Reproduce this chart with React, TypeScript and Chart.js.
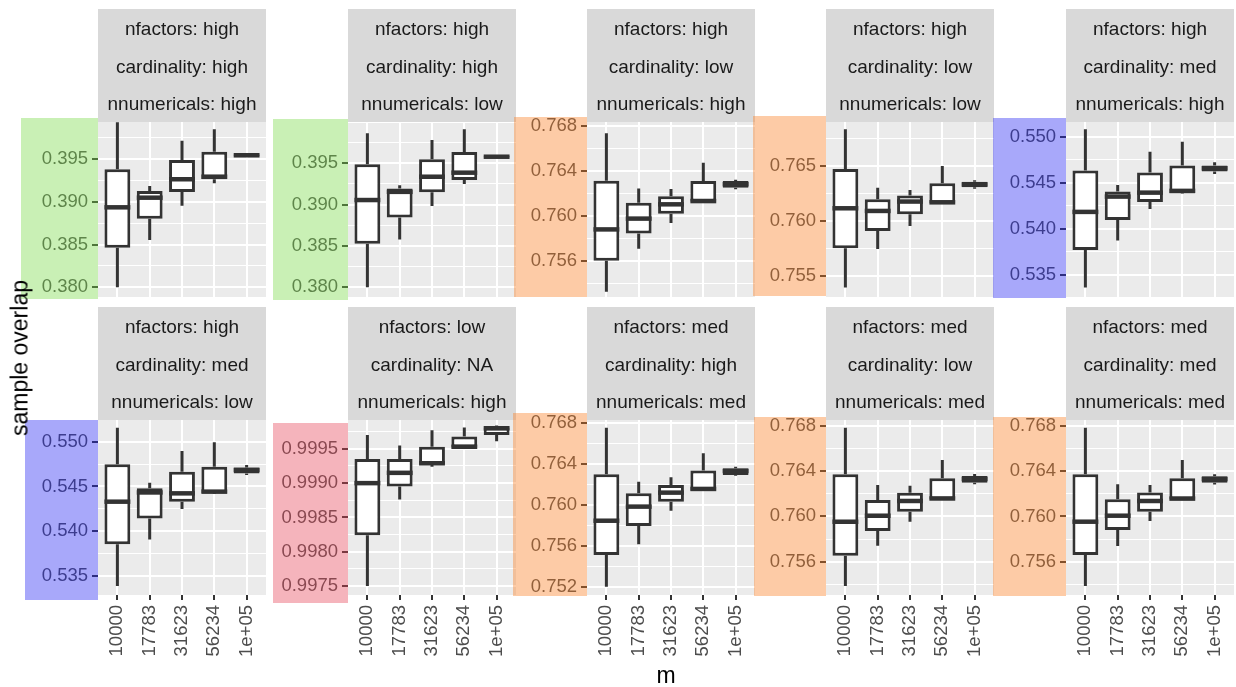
import React, { useEffect, useRef } from "react";
import { Chart, registerables } from "chart.js";

Chart.register(...registerables);

// ---------- data ----------
const categories = ["10000", "17783", "31623", "56234", "1e+05"];

// five-number summaries per m: [min, q1, median, q3, max]
const statsHHH = [
  [0.38, 0.38464, 0.38937, 0.39383, 0.39935],
  [0.38554, 0.38804, 0.3905, 0.39128, 0.39187],
  [0.38956, 0.39117, 0.39266, 0.39492, 0.39718],
  [0.39219, 0.39266, 0.39296, 0.39589, 0.39852],
  [0.39532, 0.39538, 0.39547, 0.39556, 0.39562],
];
const statsHHL = [
  [0.38, 0.38528, 0.39056, 0.39488, 0.39863],
  [0.38579, 0.38845, 0.39155, 0.39196, 0.39236],
  [0.38984, 0.39149, 0.39338, 0.39548, 0.39782],
  [0.3925, 0.39298, 0.39387, 0.39637, 0.39911],
  [0.39568, 0.39572, 0.3958, 0.39588, 0.39594],
];
const statsHLH = [
  [0.75327, 0.75603, 0.75881, 0.76314, 0.76735],
  [0.7571, 0.75844, 0.75977, 0.76119, 0.76244],
  [0.75938, 0.76021, 0.76104, 0.76176, 0.7624],
  [0.7612, 0.76127, 0.76133, 0.76311, 0.76474],
  [0.76238, 0.76252, 0.76283, 0.76311, 0.76323],
];
const statsHLL = [
  [0.75397, 0.75752, 0.76114, 0.7647, 0.7683],
  [0.75745, 0.75908, 0.7609, 0.76196, 0.76301],
  [0.75954, 0.7606, 0.76175, 0.76229, 0.7628],
  [0.76155, 0.7616, 0.76168, 0.7634, 0.76497],
  [0.76291, 0.76305, 0.7633, 0.76355, 0.76369],
];
const statsHMH = [
  [0.53363, 0.53772, 0.54184, 0.54632, 0.5508],
  [0.53873, 0.54097, 0.5435, 0.54404, 0.54476],
  [0.54216, 0.54292, 0.54393, 0.5461, 0.54837],
  [0.5438, 0.54386, 0.54412, 0.54686, 0.54946],
  [0.54595, 0.54621, 0.54657, 0.54686, 0.54722],
];
const statsHML = [
  [0.53388, 0.53855, 0.5433, 0.54748, 0.55156],
  [0.53908, 0.54143, 0.54433, 0.54479, 0.54542],
  [0.54248, 0.5433, 0.54423, 0.54665, 0.54896],
  [0.54415, 0.54423, 0.54442, 0.54721, 0.54993],
  [0.54628, 0.54645, 0.54684, 0.54712, 0.5474],
];
const statsLNH = [
  [0.9975, 0.99824, 0.999, 0.99935, 0.9997],
  [0.99876, 0.99895, 0.99915, 0.99935, 0.99955],
  [0.99924, 0.99927, 0.99929, 0.99953, 0.99977],
  [0.99951, 0.99952, 0.99953, 0.99968, 0.99981],
  [0.99961, 0.9997, 0.9998, 0.99981, 0.99984],
];
const statsMHM = [
  [0.75206, 0.75514, 0.75847, 0.76298, 0.76751],
  [0.75618, 0.75796, 0.75984, 0.76114, 0.76227],
  [0.75945, 0.76032, 0.7612, 0.76194, 0.76269],
  [0.76135, 0.76139, 0.76156, 0.76334, 0.76502],
  [0.76285, 0.76292, 0.7633, 0.76356, 0.76372],
];
const statsMLM = [
  [0.75386, 0.75653, 0.75953, 0.76371, 0.76782],
  [0.75742, 0.75871, 0.76006, 0.76145, 0.76277],
  [0.75953, 0.76041, 0.76136, 0.76209, 0.76271],
  [0.76147, 0.7615, 0.76158, 0.76336, 0.76497],
  [0.76283, 0.76297, 0.7633, 0.76356, 0.76374],
];
const statsMMM = [
  [0.75386, 0.7566, 0.75954, 0.76373, 0.76785],
  [0.75739, 0.75881, 0.76007, 0.76152, 0.76285],
  [0.7596, 0.76043, 0.76137, 0.76211, 0.76278],
  [0.76147, 0.7615, 0.76158, 0.76338, 0.76499],
  [0.76283, 0.76298, 0.76331, 0.76356, 0.76374],
];

// strip labels
const stripHHH = ["nfactors: high", "cardinality: high", "nnumericals: high"];
const stripHHL = ["nfactors: high", "cardinality: high", "nnumericals: low"];
const stripHLH = ["nfactors: high", "cardinality: low", "nnumericals: high"];
const stripHLL = ["nfactors: high", "cardinality: low", "nnumericals: low"];
const stripHMH = ["nfactors: high", "cardinality: med", "nnumericals: high"];
const stripHML = ["nfactors: high", "cardinality: med", "nnumericals: low"];
const stripLNH = ["nfactors: low", "cardinality: NA", "nnumericals: high"];
const stripMHM = ["nfactors: med", "cardinality: high", "nnumericals: med"];
const stripMLM = ["nfactors: med", "cardinality: low", "nnumericals: med"];
const stripMMM = ["nfactors: med", "cardinality: med", "nnumericals: med"];

// y tick labels per panel
const ticksHHH = [0.38, 0.385, 0.39, 0.395];
const ticksHHL = [0.38, 0.385, 0.39, 0.395];
const ticksHLH = [0.756, 0.76, 0.764, 0.768];
const ticksHLL = [0.755, 0.76, 0.765];
const ticksHMH = [0.535, 0.54, 0.545, 0.55];
const ticksHML = [0.535, 0.54, 0.545, 0.55];
const ticksLNH = [0.9975, 0.998, 0.9985, 0.999, 0.9995];
const ticksMHM = [0.752, 0.756, 0.76, 0.764, 0.768];
const ticksMLM = [0.756, 0.76, 0.764, 0.768];
const ticksMMM = [0.756, 0.76, 0.764, 0.768];

// y axis limits per panel
const rangeHHH = [0.37886, 0.39937];
const rangeHHL = [0.37883, 0.4];
const rangeHLH = [0.7528, 0.76836];
const rangeHLL = [0.7531, 0.76896];
const rangeHMH = [0.53261, 0.55159];
const rangeHML = [0.53288, 0.55242];
const rangeLNH = [0.99737, 0.99992];
const rangeMHM = [0.75125, 0.76826];
const rangeMLM = [0.75307, 0.7685];
const rangeMMM = [0.75306, 0.76853];

// ---------- styling ----------
const FONT = '"Liberation Sans", Arial, Helvetica, sans-serif';
const BAND = {
  green: "rgba(120,217,70,0.4)",
  orange: "rgba(250,125,32,0.4)",
  blue: "rgba(37,37,242,0.4)",
  pink: "rgba(230,67,87,0.4)",
};

const panels = [
  { strip: stripHHH, stats: statsHHH, ticks: ticksHHH, range: rangeHHH, dec: 3, band: BAND.green, bw: 77, bt: -4, bb: 2 },
  { strip: stripHHL, stats: statsHHL, ticks: ticksHHL, range: rangeHHL, dec: 3, band: BAND.green, bw: 75, bt: -3, bb: 3 },
  { strip: stripHLH, stats: statsHLH, ticks: ticksHLH, range: rangeHLH, dec: 3, band: BAND.orange, bw: 73, bt: -5, bb: 0 },
  { strip: stripHLL, stats: statsHLL, ticks: ticksHLL, range: rangeHLL, dec: 3, band: BAND.orange, bw: 73, bt: -6, bb: -1 },
  { strip: stripHMH, stats: statsHMH, ticks: ticksHMH, range: rangeHMH, dec: 3, band: BAND.blue, bw: 73, bt: -4, bb: 1 },
  { strip: stripHML, stats: statsHML, ticks: ticksHML, range: rangeHML, dec: 3, band: BAND.blue, bw: 73, bt: 0, bb: 5 },
  { strip: stripLNH, stats: statsLNH, ticks: ticksLNH, range: rangeLNH, dec: 4, band: BAND.pink, bw: 75, bt: 3, bb: 8 },
  { strip: stripMHM, stats: statsMHM, ticks: ticksMHM, range: rangeMHM, dec: 3, band: BAND.orange, bw: 74, bt: -7, bb: 1 },
  { strip: stripMLM, stats: statsMLM, ticks: ticksMLM, range: rangeMLM, dec: 3, band: BAND.orange, bw: 72, bt: -3, bb: 1 },
  { strip: stripMMM, stats: statsMMM, ticks: ticksMMM, range: rangeMMM, dec: 3, band: BAND.orange, bw: 73, bt: -3, bb: 1 },
];

const PANEL_LEFT = [98, 348, 587, 826, 1066];
const PANEL_W = 168;
const YAXIS_W = 90;
const STRIP_H = 113;
const TOP_PAD = 122;
const PLOT_H = 175;
const ROW_TOP = [0, 298];
const LINE_COLOR = "#333333";

const facetPlugin = {
  id: "facet",
  beforeDraw(chart: any, _args: any, opts: any) {
    const { ctx, chartArea } = chart;
    ctx.save();
    ctx.fillStyle = "#EBEBEB";
    ctx.fillRect(chartArea.left, chartArea.top, chartArea.right - chartArea.left, chartArea.bottom - chartArea.top);
    // strip
    ctx.fillStyle = "#D9D9D9";
    ctx.fillRect(chartArea.left, chartArea.top - STRIP_H, chartArea.right - chartArea.left, STRIP_H);
    ctx.fillStyle = "#1A1A1A";
    ctx.font = `19px ${FONT}`;
    ctx.textAlign = "center";
    ctx.textBaseline = "alphabetic";
    const cx = (chartArea.left + chartArea.right) / 2;
    const offs = [87, 49, 12];
    opts.strip.forEach((t: string, i: number) => {
      ctx.fillText(t, cx, chartArea.top - offs[i]);
    });
    ctx.restore();
  },
  beforeDatasetsDraw(chart: any, _args: any, opts: any) {
    const { ctx, chartArea, scales } = chart;
    ctx.save();
    ctx.beginPath();
    ctx.rect(chartArea.left, chartArea.top, chartArea.right - chartArea.left, chartArea.bottom - chartArea.top);
    ctx.clip();
    ctx.strokeStyle = LINE_COLOR;
    ctx.lineWidth = 3;
    opts.stats.forEach((s: number[], i: number) => {
      const x = scales.x.getPixelForValue(i);
      ctx.beginPath();
      ctx.moveTo(x, scales.y.getPixelForValue(s[0]));
      ctx.lineTo(x, scales.y.getPixelForValue(s[1]));
      ctx.moveTo(x, scales.y.getPixelForValue(s[3]));
      ctx.lineTo(x, scales.y.getPixelForValue(s[4]));
      ctx.stroke();
    });
    ctx.restore();
  },
  afterDatasetsDraw(chart: any, _args: any, opts: any) {
    const { ctx, chartArea, scales } = chart;
    const meta = chart.getDatasetMeta(0);
    ctx.save();
    ctx.beginPath();
    ctx.rect(chartArea.left, chartArea.top, chartArea.right - chartArea.left, chartArea.bottom - chartArea.top);
    ctx.clip();
    ctx.strokeStyle = LINE_COLOR;
    ctx.lineWidth = 4.5;
    opts.stats.forEach((s: number[], i: number) => {
      const el = meta.data[i];
      const half = el.width / 2;
      const y = scales.y.getPixelForValue(s[2]);
      ctx.beginPath();
      ctx.moveTo(el.x - half, y);
      ctx.lineTo(el.x + half, y);
      ctx.stroke();
    });
    ctx.restore();
  },
  afterDraw(chart: any, _args: any, opts: any) {
    const { ctx, chartArea } = chart;
    ctx.save();
    ctx.fillStyle = opts.band;
    ctx.fillRect(chartArea.left - opts.bw, chartArea.top + opts.bt, opts.bw, chartArea.bottom + opts.bb - (chartArea.top + opts.bt));
    ctx.restore();
  },
};

function Panel({ idx }: { idx: number }) {
  const ref = useRef<HTMLCanvasElement | null>(null);
  const row = Math.floor(idx / 5);
  const col = idx % 5;
  const bottomH = row === 1 ? 75 : 10;
  const width = YAXIS_W + PANEL_W;
  const height = TOP_PAD + PLOT_H + bottomH;

  useEffect(() => {
    const p = panels[idx];
    const step = p.ticks[1] - p.ticks[0];
    const all: number[] = [];
    const first = p.ticks[0] - step;
    for (let k = 0; k < p.ticks.length + 2; k++) {
      const v = first + k * step;
      if (v >= p.range[0] && v <= p.range[1]) all.push(v);
      const m = v + step / 2;
      if (m >= p.range[0] && m <= p.range[1]) all.push(m);
    }
    const isMajor = (v: number) => p.ticks.some((t) => Math.abs(t - v) < step / 10);
    const yTicks = all.sort((a, b) => a - b).map((v) => ({ value: v, minor: !isMajor(v) }));

    const chart = new Chart(ref.current as HTMLCanvasElement, {
      type: "bar",
      data: {
        datasets: [
          {
            data: p.stats.map((s, i) => ({ x: i, y: [s[1], s[3]] })) as any,
            backgroundColor: "#FFFFFF",
            borderColor: LINE_COLOR,
            borderWidth: 3,
            borderSkipped: false,
            barPercentage: 0.8,
            categoryPercentage: 1,
          },
        ],
      },
      options: {
        animation: false,
        responsive: false,
        maintainAspectRatio: false,
        events: [],
        layout: { padding: { top: TOP_PAD, left: 0, right: 0, bottom: 0 } },
        plugins: {
          legend: { display: false },
          tooltip: { enabled: false },
          title: { display: false },
          facet: { strip: p.strip, stats: p.stats, band: p.band, bw: p.bw, bt: p.bt, bb: p.bb },
        } as any,
        scales: {
          x: {
            type: "linear",
            min: -0.6,
            max: 4.6,
            offset: false,
            border: { display: false },
            grid: {
              offset: false,
              color: "#FFFFFF",
              lineWidth: 2,
              drawTicks: row === 1,
              tickLength: 5,
              tickColor: LINE_COLOR,
              tickWidth: 2,
            },
            ticks: {
              display: row === 1,
              autoSkip: false,
              minRotation: 90,
              maxRotation: 90,
              padding: 5,
              color: "#4D4D4D",
              font: { family: FONT, size: 18.5 },
              callback: (v: any) => categories[Math.round(Number(v))],
            },
            afterBuildTicks: (s: any) => {
              s.ticks = categories.map((_, i) => ({ value: i }));
            },
            afterFit: (s: any) => {
              s.height = bottomH;
              s.paddingLeft = 0;
              s.paddingRight = 0;
            },
          } as any,
          y: {
            type: "linear",
            min: p.range[0],
            max: p.range[1],
            border: { display: false },
            grid: {
              color: "#FFFFFF",
              lineWidth: (c: any) => (c.tick && c.tick.minor ? 1 : 2),
              drawTicks: true,
              tickLength: 6,
              tickColor: (c: any) => (c.tick && c.tick.minor ? "rgba(0,0,0,0)" : LINE_COLOR),
              tickWidth: 2,
            },
            ticks: {
              autoSkip: false,
              padding: 4,
              color: "#4D4D4D",
              font: { family: FONT, size: 18.5 },
              callback: (v: any, i: number, ts: any[]) => (ts[i] && ts[i].minor ? "" : Number(v).toFixed(p.dec)),
            },
            afterBuildTicks: (s: any) => {
              s.ticks = yTicks.map((t) => ({ ...t }));
            },
            afterFit: (s: any) => {
              s.width = YAXIS_W;
              s.paddingTop = 0;
              s.paddingBottom = 0;
            },
          } as any,
        },
      },
      plugins: [facetPlugin],
    });
    return () => chart.destroy();
  }, [idx]);

  return (
    <canvas
      ref={ref}
      width={width}
      height={height}
      style={{
        position: "absolute",
        left: PANEL_LEFT[col] - YAXIS_W,
        top: ROW_TOP[row],
        width,
        height,
      }}
    />
  );
}

export default function App() {
  return (
    <div
      style={{
        position: "absolute",
        left: 0,
        top: 0,
        width: 1236,
        height: 687,
        background: "#FFFFFF",
        overflow: "hidden",
        fontFamily: FONT,
      }}
    >
      {panels.map((_, i) => (
        <Panel key={i} idx={i} />
      ))}
      <div
        style={{
          position: "absolute",
          left: 20,
          top: 358,
          transform: "translate(-50%, -50%) rotate(-90deg)",
          whiteSpace: "nowrap",
          fontSize: 23,
          color: "#000000",
          lineHeight: 1,
        }}
      >
        sample overlap
      </div>
      <div
        style={{
          position: "absolute",
          left: 666,
          top: 675,
          transform: "translate(-50%, -50%)",
          whiteSpace: "nowrap",
          fontSize: 23,
          color: "#000000",
          lineHeight: 1,
        }}
      >
        m
      </div>
    </div>
  );
}
